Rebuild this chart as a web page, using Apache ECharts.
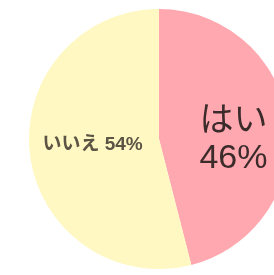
<!DOCTYPE html>
<html lang="ja">
<head>
	<meta charset="utf-8">
	<title>はい / いいえ</title>
	<script src="https://cdn.jsdelivr.net/npm/echarts@6/dist/echarts.min.js"></script>
	<style>
		html, body { margin: 0; padding: 0; background: #fff; }
		#chart { width: 274px; height: 275px; }
	</style>
</head>
<body>
	<div id="chart"></div>
	<script>
		var answers = ['はい', 'いいえ'];
		var percents = [46, 54];
		var colors = ['#FFA8AF', '#FFF8C2'];

		var chart = echarts.init(document.getElementById('chart'));
		var font = '"Liberation Sans", "Noto Sans CJK JP", sans-serif';

		var data = answers.map(function (name, i) {
			var big = i === 0;
			return {
				name: name,
				value: percents[i],
				itemStyle: { color: colors[i] },
				label: big ? {
					formatter: '{b}\n{c}%',
					fontSize: 34,
					lineHeight: 37,
					color: '#3b2b2b',
					offset: [7, 10]
				} : {
					formatter: '{b} {c}%',
					fontSize: 19,
					fontWeight: 'bold',
					color: '#5c5444',
					offset: [1, -3]
				}
			};
		});

		chart.setOption({
			animation: false,
			series: [{
				type: 'pie',
				center: [159, 139],
				radius: 130,
				startAngle: 90,
				clockwise: true,
				silent: true,
				label: {
					show: true,
					position: 'inside',
					fontFamily: font
				},
				labelLine: { show: false },
				data: data
			}]
		});
	</script>
</body>
</html>
